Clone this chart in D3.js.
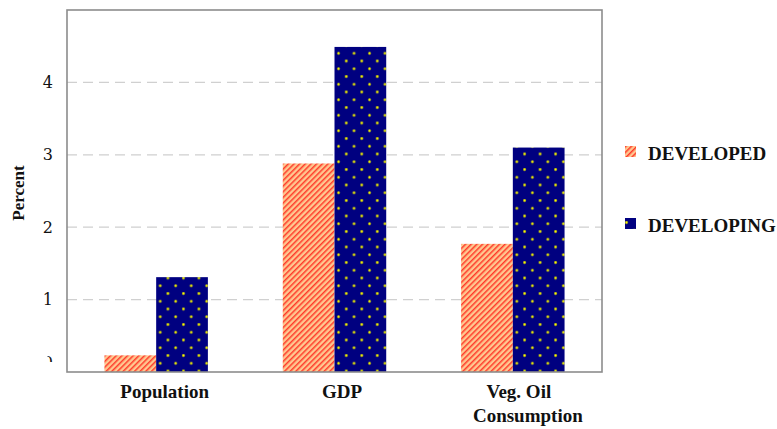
<!DOCTYPE html>
<html>
<head>
<meta charset="utf-8">
<script src="https://cdn.jsdelivr.net/npm/d3@7/dist/d3.min.js"></script>
<style>
  html, body { margin: 0; padding: 0; background: #fff; }
  svg { display: block; }
</style>
</head>
<body>
<div id="chart"></div>
<script>
// Growth rates by indicator, developed vs developing countries
const categories = ["Population", "GDP", "Veg. Oil\nConsumption"];
const seriesNames = ["DEVELOPED", "DEVELOPING"];
const developed = [0.23, 2.88, 1.77];
const developing = [1.31, 4.49, 3.10];
const yTicks = [0, 1, 2, 3, 4];
const yLabel = "Percent";

const W = 777, H = 429;
const margin = { left: 67, top: 10, right: 175, bottom: 57 };
const plotW = W - margin.left - margin.right;
const plotH = H - margin.top - margin.bottom;

const svg = d3.select("#chart").append("svg")
  .attr("width", W).attr("height", H);

const defs = svg.append("defs");

// Diagonal red stripes on peach
const stripes = defs.append("pattern")
  .attr("id", "stripes")
  .attr("patternUnits", "userSpaceOnUse")
  .attr("width", 4).attr("height", 4)
  .attr("patternTransform", "rotate(45)");
stripes.append("rect").attr("width", 4).attr("height", 4).attr("fill", "#ffc890");
stripes.append("rect").attr("x", 0).attr("width", 1.5).attr("height", 4).attr("fill", "#ff3a2a");

// Yellow dots on navy, staggered grid
const dotSize = 15.5;
const dots = defs.append("pattern")
  .attr("id", "dots")
  .attr("patternUnits", "userSpaceOnUse")
  .attr("x", 0).attr("y", 3)
  .attr("width", dotSize).attr("height", dotSize);
dots.append("rect").attr("width", dotSize).attr("height", dotSize).attr("fill", "#000080");
[[1.5, 1.5], [1.5 + dotSize / 2, 1.5 + dotSize / 2]].forEach(([cx, cy]) => {
  dots.append("circle").attr("cx", cx).attr("cy", cy).attr("r", 1.6).attr("fill", "#8a8a2a");
  dots.append("circle").attr("cx", cx).attr("cy", cy).attr("r", 0.9).attr("fill", "#ffff00");
});

const fills = ["url(#stripes)", "url(#dots)"];

const g = svg.append("g").attr("transform", `translate(${margin.left},${margin.top})`);

const x0 = d3.scaleBand().domain(categories).range([0, plotW]).paddingInner(0.42).paddingOuter(0.21);
const x1 = d3.scaleBand().domain(seriesNames).range([0, x0.bandwidth()]);
const y = d3.scaleLinear().domain([0, 5]).range([plotH, 0]);

// Dashed gridlines
g.append("g").selectAll("line")
  .data(yTicks.filter(t => t > 0))
  .join("line")
  .attr("x1", 0).attr("x2", plotW)
  .attr("y1", d => y(d)).attr("y2", d => y(d))
  .attr("stroke", "#d0d0d0").attr("stroke-width", 1.2)
  .attr("stroke-dasharray", "10,6");

// Bars
const rows = categories.map((c, i) => ({ cat: c, vals: [developed[i], developing[i]] }));
const groups = g.append("g").selectAll("g")
  .data(rows).join("g")
  .attr("transform", d => `translate(${x0(d.cat)},0)`);
groups.selectAll("rect")
  .data(d => d.vals.map((v, j) => ({ v, s: seriesNames[j], j })))
  .join("rect")
  .attr("x", d => x1(d.s))
  .attr("width", x1.bandwidth())
  .attr("y", d => y(d.v))
  .attr("height", d => y(0) - y(d.v))
  .attr("fill", d => fills[d.j]);

// Plot frame
g.append("rect")
  .attr("x", 0).attr("y", 0).attr("width", plotW).attr("height", plotH)
  .attr("fill", "none").attr("stroke", "#8c8c8c").attr("stroke-width", 1.6);

// Y axis labels
const yAxis = d3.axisLeft(y).tickValues(yTicks).tickSize(0).tickPadding(14).tickFormat(d3.format("d"));
const ya = g.append("g").call(yAxis);
ya.select(".domain").remove();
ya.selectAll("text")
  .attr("font-family", "'DejaVu Serif', serif")
  .attr("font-size", 16)
  .attr("fill", "#111");

// the zero label is mostly cut off at the axis corner: only its upper-right arc shows
const clipLocal = defs.append("clipPath").attr("id", "zeroClip");
clipLocal.append("rect").attr("x", -19.5).attr("y", -18).attr("width", 7).attr("height", 7.5);
ya.selectAll(".tick").filter(d => d === 0).select("text")
  .attr("y", -10)
  .attr("clip-path", "url(#zeroClip)");

// Y axis title
svg.append("text")
  .attr("transform", `translate(24,${margin.top + y(2.5) + 2}) rotate(-90)`)
  .attr("text-anchor", "middle")
  .attr("font-family", "'Liberation Serif', serif")
  .attr("font-weight", "bold")
  .attr("font-size", 17)
  .attr("fill", "#111")
  .text(yLabel);

// Category labels
const xl = g.append("g").attr("transform", `translate(0,${plotH})`);
const lineShift = [[8.5], [7.5], [6, 15]];
categories.forEach((c, ci) => {
  const lines = c.split("\n");
  const cx = x0(c) + x0.bandwidth() / 2;
  const t = xl.append("text")
    .attr("y", 26)
    .attr("text-anchor", "middle")
    .attr("font-family", "'Liberation Serif', serif")
    .attr("font-weight", "bold")
    .attr("font-size", 19)
    .attr("fill", "#111");
  lines.forEach((ln, i) => {
    t.append("tspan").attr("x", cx + lineShift[ci][i])
      .attr("dy", i === 0 ? 0 : 24).text(ln);
  });
});

// Legend
const legend = svg.append("g").attr("transform", "translate(625,146)");
seriesNames.forEach((s, i) => {
  const row = legend.append("g").attr("transform", `translate(0,${i * 72})`);
  row.append("rect").attr("width", 11).attr("height", 11).attr("fill", fills[i]);
  row.append("text")
    .attr("x", 23).attr("y", 14)
    .attr("font-family", "'Liberation Serif', serif")
    .attr("font-weight", "bold")
    .attr("font-size", 19)
    .attr("fill", "#111")
    .text(s);
});
</script>
</body>
</html>
